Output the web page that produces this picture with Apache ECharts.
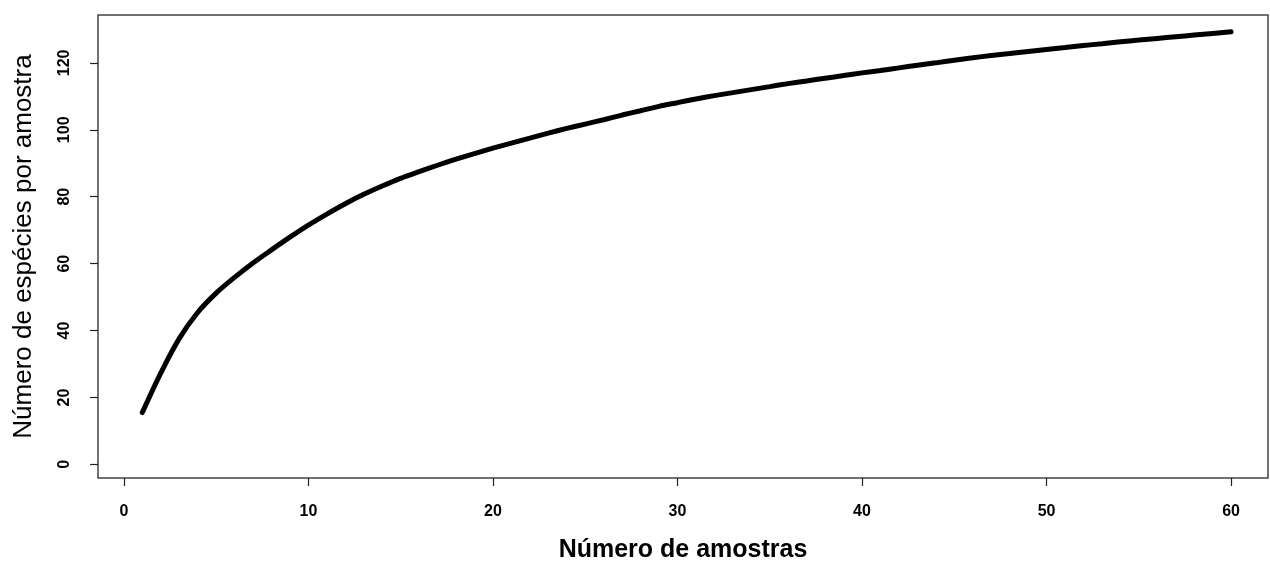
<!DOCTYPE html>
<html>
<head>
<meta charset="utf-8">
<script src="https://cdn.jsdelivr.net/npm/echarts@6/dist/echarts.min.js"></script>
<style>html,body{margin:0;padding:0;background:#fff}#c{width:1270px;height:568px}</style>
</head>
<body>
<div id="c"></div>
<script>
// Number of samples (x) and estimated species per sample (y)
const samples = [1,2,3,4,5,6,7,8,9,10,11,12,13,14,15,16,17,18,19,20,21,22,23,24,25,26,27,28,29,30,31,32,33,34,35,36,37,38,39,40,41,42,43,44,45,46,47,48,49,50,51,52,53,54,55,56,57,58,59,60];
const species = [15.5,27.3,37.6,45.4,51.2,55.9,60.2,64.1,67.9,71.5,74.8,77.9,80.7,83.2,85.5,87.5,89.4,91.2,92.9,94.5,96.0,97.5,99.0,100.4,101.7,103.0,104.4,105.7,107.0,108.1,109.2,110.2,111.1,112.0,112.9,113.8,114.6,115.4,116.2,117.0,117.7,118.5,119.3,120.0,120.8,121.5,122.2,122.8,123.4,124.0,124.6,125.2,125.7,126.3,126.8,127.3,127.8,128.3,128.8,129.3];
const xTicks = [0,10,20,30,40,50,60];
const yTicks = [0,20,40,60,80,100,120];
const xTitle = 'Número de amostras';
const yTitle = 'Número de espécies por amostra';

const FONT = '"Liberation Sans", Arial, sans-serif';
const chart = echarts.init(document.getElementById('c'), null, {renderer: 'canvas'});
chart.setOption({
  animation: false,
  backgroundColor: '#fff',
  grid: {left: 98, top: 15, width: 1170, height: 467, show: true, borderColor: '#444', borderWidth: 1.5, backgroundColor: 'transparent'},
  xAxis: {
    type: 'value', min: -1.4, max: 62.0,
    axisLine: {show: false, onZero: false},
    splitLine: {show: false},
    axisTick: {show: true, inside: false, length: 8, customValues: xTicks, lineStyle: {color: '#222', width: 1.2}},
    axisLabel: {customValues: xTicks, margin: 26, color: '#000', fontFamily: FONT, fontWeight: 'bold', fontSize: 16},
    name: xTitle, nameLocation: 'middle', nameGap: 60,
    nameTextStyle: {color: '#000', fontFamily: FONT, fontWeight: 'bold', fontSize: 25}
  },
  yAxis: {
    type: 'value', min: -4.06, max: 134.3,
    axisLine: {show: false, onZero: false},
    splitLine: {show: false},
    axisTick: {show: true, inside: false, length: 8, customValues: yTicks, lineStyle: {color: '#222', width: 1.2}},
    axisLabel: {customValues: yTicks, rotate: 90, margin: 25, color: '#000', fontFamily: FONT, fontWeight: 'bold', fontSize: 16},
    name: yTitle, nameLocation: 'middle', nameGap: 61,
    nameTextStyle: {color: '#000', fontFamily: FONT, fontSize: 26}
  },
  series: [{
    type: 'line',
    data: samples.map((s, i) => [s, species[i]]),
    showSymbol: false,
    smooth: 0.3,
    lineStyle: {color: '#000', width: 5, cap: 'round'}
  }]
});
</script>
</body>
</html>
